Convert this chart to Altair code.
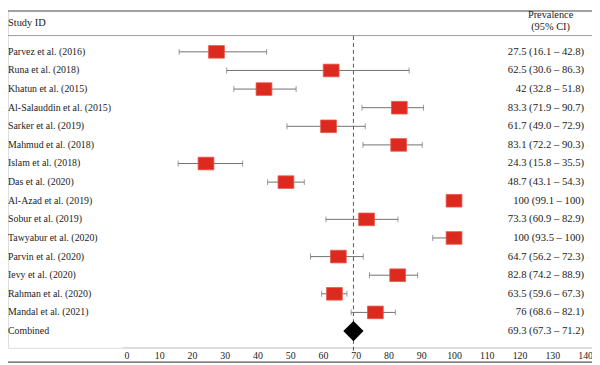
import altair as alt
import pandas as pd

studies = ["Parvez et al. (2016)", "Runa et al. (2018)", "Khatun et al. (2015)",
           "Al-Salauddin et al. (2015)", "Sarker et al. (2019)", "Mahmud et al. (2018)",
           "Islam et al. (2018)", "Das et al. (2020)", "Al-Azad et al. (2019)",
           "Sobur et al. (2019)", "Tawyabur et al. (2020)", "Parvin et al. (2020)",
           "Ievy et al. (2020)", "Rahman et al. (2020)", "Mandal et al. (2021)"]
est = [27.5, 62.5, 42, 83.3, 61.7, 83.1, 24.3, 48.7, 100, 73.3, 100, 64.7, 82.8, 63.5, 76]
lo = [16.1, 30.6, 32.8, 71.9, 49.0, 72.2, 15.8, 43.1, 99.1, 60.9, 93.5, 56.2, 74.2, 59.6, 68.6]
hi = [42.8, 86.3, 51.8, 90.7, 72.9, 90.3, 35.5, 54.3, 100, 82.9, 100, 72.3, 88.9, 67.3, 82.1]
est_txt = ["27.5", "62.5", "42", "83.3", "61.7", "83.1", "24.3", "48.7", "100", "73.3",
           "100", "64.7", "82.8", "63.5", "76"]
lo_txt = ["16.1", "30.6", "32.8", "71.9", "49.0", "72.2", "15.8", "43.1", "99.1", "60.9",
          "93.5", "56.2", "74.2", "59.6", "68.6"]
hi_txt = ["42.8", "86.3", "51.8", "90.7", "72.9", "90.3", "35.5", "54.3", "100", "82.9",
          "100", "72.3", "88.9", "67.3", "82.1"]

combined_label = "Combined"
combined_est = 69.3
combined_lo = 67.3
combined_hi = 71.2
x_ticks = [0, 10, 20, 30, 40, 50, 60, 70, 80, 90, 100, 110, 120, 130, 140]

FONT = "Liberation Serif"
TXT = "#222222"

df = pd.DataFrame({
    "study": studies,
    "est": est,
    "lo": lo,
    "hi": hi,
    "row": list(range(len(studies))),
    "label": [f"{e} ({l} – {h})" for e, l, h in zip(est_txt, lo_txt, hi_txt)],
})
cdf = pd.DataFrame({
    "study": [combined_label],
    "est": [combined_est],
    "lo": [combined_lo],
    "hi": [combined_hi],
    "row": [len(studies)],
    "label": [f"{combined_est} ({combined_lo} – {combined_hi})"],
})
alldf = pd.concat([df, cdf], ignore_index=True)

xscale = alt.Scale(domain=[0, 140], range=[120, 585], nice=False, zero=False)
yscale = alt.Scale(domain=[0, 15], range=[42, 325], nice=False, zero=False)
xaxis = alt.Axis(values=x_ticks, title=None, domain=False, ticks=False, grid=False,
                 labelFont=FONT, labelFontSize=10, labelColor=TXT, labelPadding=3,
                 labelFlush=False)

Y = alt.Y("row:Q", scale=yscale, axis=None)

whisk = alt.Chart(df).mark_rule(color="#707070", strokeWidth=1).encode(
    x=alt.X("lo:Q", scale=xscale, axis=xaxis), x2="hi:Q", y=Y)
cap_lo = alt.Chart(df).mark_tick(orient="vertical", size=6, thickness=1, color="#707070").encode(
    x=alt.X("lo:Q", scale=xscale, axis=xaxis), y=Y)
cap_hi = alt.Chart(df).mark_tick(orient="vertical", size=6, thickness=1, color="#707070").encode(
    x=alt.X("hi:Q", scale=xscale, axis=xaxis), y=Y)
boxes = alt.Chart(df).mark_point(
    shape="M-1,-0.8H1V0.8H-1Z", size=256, filled=True, fill="#DD2A1F",
    stroke="#E8574C", strokeWidth=0.8, opacity=1).encode(
    x=alt.X("est:Q", scale=xscale, axis=xaxis), y=Y)
diamond = alt.Chart(cdf).mark_point(
    shape="diamond", size=420, filled=True, color="#000000", opacity=1).encode(
    x=alt.X("est:Q", scale=xscale, axis=xaxis), y=Y)
vline = alt.Chart(cdf).mark_rule(color="#555555", strokeDash=[4, 3], strokeWidth=1).encode(
    x=alt.X("est:Q", scale=xscale, axis=xaxis), y=alt.value(26), y2=alt.value(346))

left_txt = alt.Chart(alldf).mark_text(align="left", baseline="middle", font=FONT,
                                      fontSize=10, color=TXT).encode(
    x=alt.value(0), y=Y, text="study:N")
right_txt = alt.Chart(alldf).mark_text(align="right", baseline="middle", font=FONT,
                                       fontSize=10.8, color=TXT).encode(
    x=alt.value(584), y=Y, text="label:N")

hdr = pd.DataFrame({"t": ["Study ID"]})
hdr_left = alt.Chart(hdr).mark_text(align="left", baseline="middle", font=FONT,
                                    fontSize=10.5, color=TXT).encode(
    x=alt.value(0), y=alt.value(13), text="t:N")
hdr2 = pd.DataFrame({"t": ["Prevalence"], "t2": ["(95% CI)"]})
hdr_r1 = alt.Chart(hdr2).mark_text(align="center", baseline="middle", font=FONT,
                                   fontSize=10.5, color=TXT).encode(
    x=alt.value(550), y=alt.value(5), text="t:N")
hdr_r2 = alt.Chart(hdr2).mark_text(align="center", baseline="middle", font=FONT,
                                   fontSize=10.5, color=TXT).encode(
    x=alt.value(550), y=alt.value(17), text="t2:N")

top_rule = alt.Chart(hdr).mark_rule(color="#555555", strokeWidth=1.2).encode(
    x=alt.value(0), x2=alt.value(592), y=alt.value(0.6))
hdr_rule = alt.Chart(hdr).mark_rule(color="#9a9a9a", strokeWidth=1).encode(
    x=alt.value(0), x2=alt.value(592), y=alt.value(25.5))
axis_rule = alt.Chart(hdr).mark_rule(color="#cfcfcf", strokeWidth=1).encode(
    x=alt.value(116), x2=alt.value(592), y=alt.value(342))
bot_rule = alt.Chart(hdr).mark_rule(color="#555555", strokeWidth=1.2).encode(
    x=alt.value(0), x2=alt.value(592), y=alt.value(356.5))

chart = alt.layer(
    top_rule, hdr_rule, axis_rule, bot_rule, vline, whisk, cap_lo, cap_hi, boxes, diamond,
    left_txt, right_txt, hdr_left, hdr_r1, hdr_r2
).properties(
    width=592, height=342,
    autosize=alt.AutoSizeParams(type="none"),
    padding={"left": 0, "top": 0, "right": 0, "bottom": 16},
).configure_view(stroke=None).configure(background="white")

chart.save("out.html", embed_options={"renderer": "svg", "actions": False})
